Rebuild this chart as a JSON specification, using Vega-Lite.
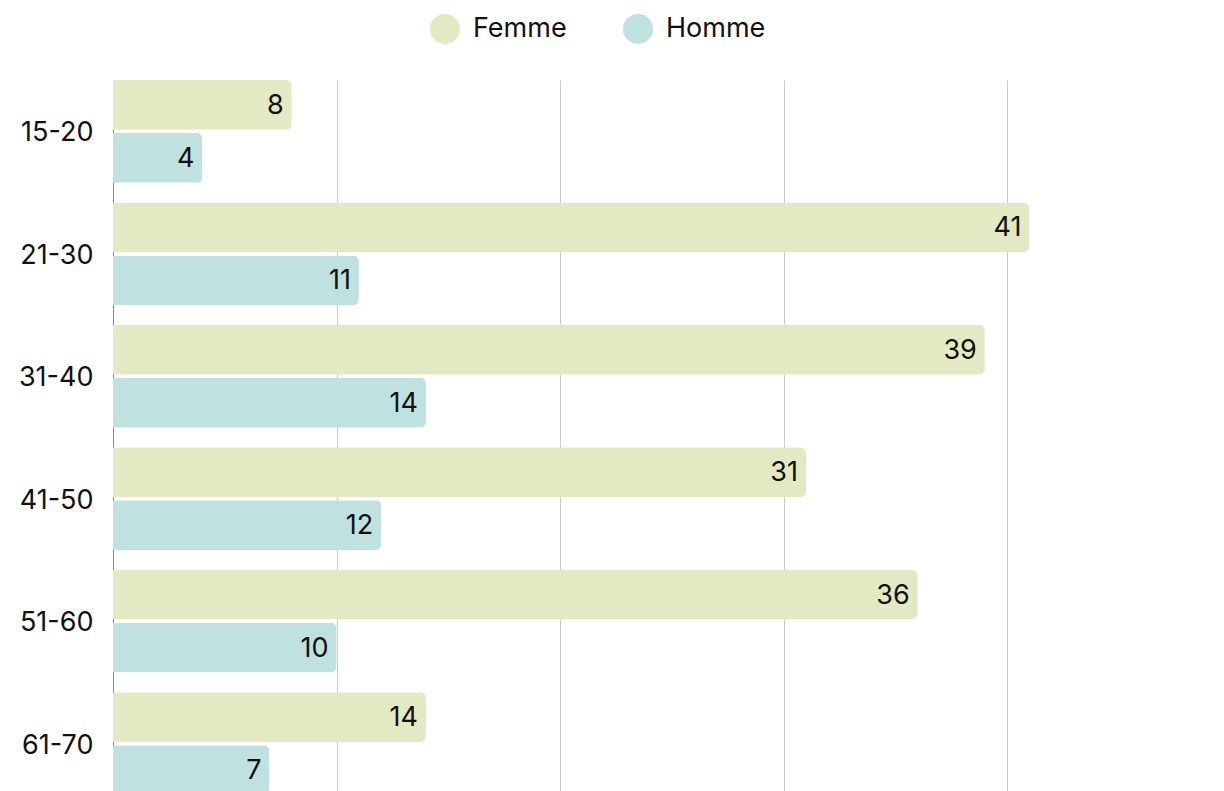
{
  "$schema": "https://vega.github.io/schema/vega-lite/v6.json",
  "autosize": "none",
  "padding": {"left": 113, "top": 80, "right": 0, "bottom": 0},
  "width": 1111,
  "height": 715,
  "background": "white",
  "config": {
    "view": {"stroke": null},
    "font": "Inter",
    "text": {"font": "Inter"}
  },
  "data": {
    "values": [
      {"age": "15-20", "sexe": "Femme", "n": 8},
      {"age": "15-20", "sexe": "Homme", "n": 4},
      {"age": "21-30", "sexe": "Femme", "n": 41},
      {"age": "21-30", "sexe": "Homme", "n": 11},
      {"age": "31-40", "sexe": "Femme", "n": 39},
      {"age": "31-40", "sexe": "Homme", "n": 14},
      {"age": "41-50", "sexe": "Femme", "n": 31},
      {"age": "41-50", "sexe": "Homme", "n": 12},
      {"age": "51-60", "sexe": "Femme", "n": 36},
      {"age": "51-60", "sexe": "Homme", "n": 10},
      {"age": "61-70", "sexe": "Femme", "n": 14},
      {"age": "61-70", "sexe": "Homme", "n": 7}
    ]
  },
  "encoding": {
    "y": {
      "field": "age", "type": "nominal", "sort": null,
      "scale": {"paddingInner": 0.16, "paddingOuter": 0},
      "axis": {
        "title": null, "ticks": false, "labelPadding": 20, "labelFontSize": 27,
        "labelOffset": 2,
        "labelColor": "#111", "labelFont": "Inter", "domainColor": "#888", "grid": false
      }
    },
    "yOffset": {
      "field": "sexe", "type": "nominal", "sort": ["Femme", "Homme"],
      "scale": {"paddingInner": 0.06, "paddingOuter": 0}
    },
    "x": {
      "field": "n", "type": "quantitative",
      "scale": {"domain": [0, 49.7], "nice": false, "zero": true},
      "axis": {
        "title": null, "labels": false, "ticks": false, "domain": false,
        "grid": true, "gridColor": "#cccccc", "values": [10, 20, 30, 40]
      }
    }
  },
  "layer": [
    {
      "mark": {"type": "bar", "cornerRadiusEnd": 6},
      "encoding": {
        "color": {
          "field": "sexe", "type": "nominal",
          "scale": {"domain": ["Femme", "Homme"], "range": ["#e3e9c2", "#bfe1e0"]},
          "legend": {
            "title": null, "orient": "none", "direction": "horizontal",
            "legendX": 317, "legendY": -66,
            "symbolType": "circle", "symbolSize": 900, "symbolStrokeWidth": 0,
            "labelFontSize": 27, "labelFont": "Inter", "labelColor": "#111",
            "labelOffset": 13, "columnPadding": 56
          }
        }
      }
    },
    {
      "mark": {"type": "text", "align": "right", "dx": -8, "dy": 1, "fontSize": 27, "color": "#111", "baseline": "middle"},
      "encoding": {"text": {"field": "n", "type": "quantitative"}}
    }
  ]
}
